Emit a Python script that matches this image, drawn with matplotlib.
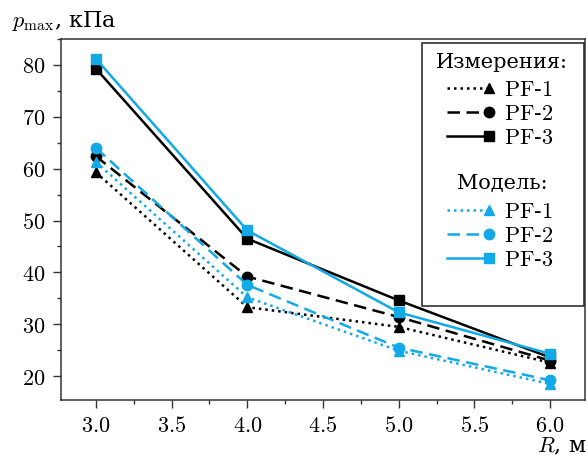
import matplotlib
matplotlib.use("Agg")
import matplotlib.pyplot as plt
from matplotlib.legend_handler import HandlerLine2D
from matplotlib.lines import Line2D
from matplotlib.patches import Rectangle
from matplotlib.ticker import FormatStrFormatter, MultipleLocator

plt.rcParams['font.family'] = ['DejaVu Serif']
plt.rcParams['mathtext.fontset'] = 'cm'

R = [3.0, 4.0, 5.0, 6.0]
# измерения
meas_pf1 = [59.3, 33.3, 29.5, 22.6]
meas_pf2 = [62.4, 39.2, 31.4, 23.0]
meas_pf3 = [79.3, 46.5, 34.6, 23.6]
# модель
mod_pf1 = [61.3, 35.2, 24.9, 18.5]
mod_pf2 = [64.0, 37.6, 25.5, 19.2]
mod_pf3 = [81.2, 48.1, 32.3, 24.3]
labels = [r'$\mathrm{PF}$-$\mathrm{1}$', r'$\mathrm{PF}$-$\mathrm{2}$',
          r'$\mathrm{PF}$-$\mathrm{3}$']

blue = '#12a9e9'
styles = [((0, (1, 1.6)), '^'), ((0, (5, 2.6)), 'o'), ('-', 's')]


class EndMarker(HandlerLine2D):
    # маркер только на правом конце линии
    def create_artists(self, legend, orig_handle, xdescent, ydescent,
                       width, height, fontsize, trans):
        arts = super().create_artists(legend, orig_handle, xdescent, ydescent,
                                      width, height, fontsize, trans)
        for a in arts:
            a.set_markevery([1])
        return arts


fig = plt.figure(figsize=(5.88, 4.57), dpi=100)
ax = fig.add_axes([0.1037, 0.1247, 0.8912, 0.79])

h1 = []
for ys, (ls, mk), lab in zip([meas_pf1, meas_pf2, meas_pf3], styles, labels):
    l, = ax.plot(R, ys, color='black', linestyle=ls, marker=mk, lw=1.8,
                 ms=7.5, label=lab)
    h1.append(l)
h2 = []
for ys, (ls, mk), lab in zip([mod_pf1, mod_pf2, mod_pf3], styles, labels):
    l, = ax.plot(R, ys, color=blue, linestyle=ls, marker=mk, lw=1.8,
                 ms=7.5, label=lab)
    h2.append(l)

ax.set_xlim(2.77, 6.23)
ax.set_ylim(15.4, 85)
ax.xaxis.set_major_locator(MultipleLocator(0.5))
ax.xaxis.set_minor_locator(MultipleLocator(0.25))
ax.yaxis.set_major_locator(MultipleLocator(10))
ax.yaxis.set_minor_locator(MultipleLocator(5))
ax.xaxis.set_major_formatter(FormatStrFormatter(r'$%.1f$'))
ax.yaxis.set_major_formatter(FormatStrFormatter(r'$%d$'))
ax.tick_params(which='both', direction='out', labelsize=16, width=1.0,
               color='#333333')
ax.tick_params(which='major', length=6, pad=5)
ax.tick_params(which='minor', length=3)
for s in ax.spines.values():
    s.set_linewidth(1.1)
    s.set_color('#333333')

# легенда: две группы в общей рамке
leg_kw = dict(frameon=False, fontsize=16, handlelength=2.5, handletextpad=0.36,
              labelspacing=0.08, numpoints=2, loc='upper left',
              borderpad=0.2, borderaxespad=0,
              handler_map={Line2D: EndMarker()})
leg1 = ax.legend(handles=h1, bbox_to_anchor=(0.715, 0.901), **leg_kw)
ax.add_artist(leg1)
leg2 = ax.legend(handles=h2, bbox_to_anchor=(0.715, 0.563), **leg_kw)
ax.text(0.842, 0.936, 'Измерения:', transform=ax.transAxes, fontsize=15,
        ha='center', va='center')
ax.text(0.842, 0.601, 'Модель:', transform=ax.transAxes, fontsize=15,
        ha='center', va='center')
ax.add_patch(Rectangle((0.688, 0.26), 0.311, 0.729, transform=ax.transAxes,
                       fill=False, lw=1.1, edgecolor='#222222', zorder=5))

fig.text(0.02, 0.941, r'$p_{\max}$, кПа', fontsize=16, va='baseline')
fig.text(0.998, 0.01, r'$R$, м', fontsize=16, ha='right', va='baseline')

fig.savefig('out.png', dpi=100)
